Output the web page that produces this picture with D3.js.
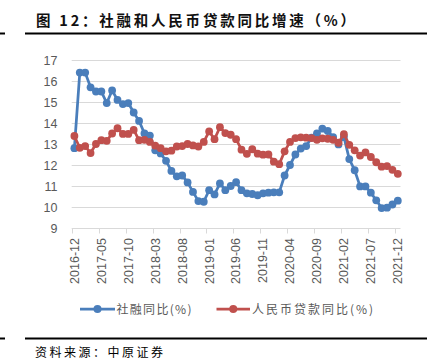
<!DOCTYPE html>
<html><head><meta charset="utf-8">
<script src="https://cdn.jsdelivr.net/npm/d3@7"></script>
<style>
html,body{margin:0;padding:0;background:#fff;}
svg{display:block;}
</style>
</head><body>
<svg id="chart" width="431" height="358"></svg>
<script>
const months = [
"2016-12","2017-01","2017-02","2017-03","2017-04","2017-05","2017-06","2017-07","2017-08","2017-09","2017-10","2017-11",
"2017-12","2018-01","2018-02","2018-03","2018-04","2018-05","2018-06","2018-07","2018-08","2018-09","2018-10","2018-11",
"2018-12","2019-01","2019-02","2019-03","2019-04","2019-05","2019-06","2019-07","2019-08","2019-09","2019-10","2019-11",
"2019-12","2020-01","2020-02","2020-03","2020-04","2020-05","2020-06","2020-07","2020-08","2020-09","2020-10","2020-11",
"2020-12","2021-01","2021-02","2021-03","2021-04","2021-05","2021-06","2021-07","2021-08","2021-09","2021-10","2021-11",
"2021-12"];
const tsfGrowth = [
12.8,16.4,16.4,15.7,15.5,15.5,14.95,15.55,15.1,14.9,14.95,14.5,
14.1,13.5,13.4,12.7,12.55,12.2,11.72,11.46,11.5,11.17,10.72,10.28,
10.25,10.8,10.6,11.12,10.8,11.0,11.18,10.8,10.65,10.62,10.56,10.65,
10.68,10.7,10.7,11.5,12.0,12.5,12.78,12.9,13.3,13.5,13.73,13.62,
13.33,12.98,13.34,12.28,11.75,10.98,10.98,10.68,10.32,9.95,9.97,10.12,
10.3];
const loanGrowth = [
13.38,12.82,12.9,12.57,13.0,13.18,13.15,13.5,13.75,13.48,13.48,13.67,
13.18,13.2,13.1,12.92,12.8,12.65,12.68,12.88,12.9,13.0,12.93,12.88,
13.1,13.6,13.23,13.8,13.52,13.44,13.23,12.73,12.53,12.75,12.54,12.49,
12.5,12.16,12.04,12.65,13.1,13.28,13.32,13.3,13.28,13.2,13.27,13.25,
13.2,13.06,13.47,12.96,12.7,12.45,12.6,12.38,12.13,11.92,11.95,11.77,
11.58];
const yTicks = [9,10,11,12,13,14,15,16,17];
const xTickLabels = ["2016-12","2017-05","2017-10","2018-03","2018-08","2019-01","2019-06","2019-11","2020-04","2020-09","2021-02","2021-07","2021-12"];
const seriesNames = ["社融同比(%)","人民币贷款同比(%)"];
const titleText = "图 12：社融和人民币贷款同比增速（%）";
const sourceText = "资料来源：中原证券";

const BLUE = "#4a7ebb", RED = "#c0504d", GRID = "#d9d9d9", LABEL = "#595959";
const svg = d3.select("#chart");

const x = d3.scaleBand().domain(months).range([71.7, 400.5]).padding(0);
const y = d3.scaleLinear().domain([9, 17]).range([228, 60]);
const cx = d => x(d) + x.bandwidth() / 2;

// title and rules
svg.append("text").attr("x", 36).attr("y", 25.5)
  .attr("font-family", "'Noto Sans CJK SC', sans-serif").attr("font-weight", "bold")
  .attr("font-size", 14.5).attr("fill", "#111")
  .attr("textLength", 319).attr("lengthAdjust", "spacing")
  .text(titleText);
[[0,5],[25,427]].forEach(([a,b]) => {
  svg.append("line").attr("x1", a).attr("x2", b).attr("y1", 33.5).attr("y2", 33.5)
    .attr("stroke", "#000").attr("stroke-width", 2);
  svg.append("line").attr("x1", a).attr("x2", b).attr("y1", 338.5).attr("y2", 338.5)
    .attr("stroke", "#000").attr("stroke-width", 2);
});
svg.append("text").attr("x", 35).attr("y", 356.5)
  .attr("font-family", "'Noto Sans CJK SC', sans-serif")
  .attr("font-size", 12).attr("fill", "#000")
  .attr("textLength", 128).attr("lengthAdjust", "spacing")
  .text(sourceText);

// gridlines
svg.append("g").selectAll("line").data(yTicks.filter(v => v > 9)).join("line")
  .attr("x1", 71.7).attr("x2", 400.5)
  .attr("y1", d => Math.round(y(d)) + 0.5).attr("y2", d => Math.round(y(d)) + 0.5)
  .attr("stroke", GRID).attr("stroke-width", 1);

// y axis labels
const yAxis = d3.axisLeft(y).tickValues(yTicks).tickSize(0).tickPadding(0);
const gy = svg.append("g").attr("transform", "translate(57.5,0)").call(yAxis);
gy.select(".domain").remove();
gy.selectAll("text").attr("font-family", "'Liberation Sans', Arial, sans-serif")
  .attr("font-size", 12.5).attr("fill", LABEL);

// x axis
svg.append("line").attr("x1", 71.7).attr("x2", 400.5).attr("y1", 228.5).attr("y2", 228.5)
  .attr("stroke", GRID).attr("stroke-width", 1);
svg.append("g").selectAll("line").data(xTickLabels).join("line")
  .attr("x1", d => Math.round(x(d)) + 0.5).attr("x2", d => Math.round(x(d)) + 0.5)
  .attr("y1", 228.5).attr("y2", 233.5).attr("stroke", GRID).attr("stroke-width", 1);
const xAxis = d3.axisBottom(x).tickValues(xTickLabels).tickSize(0).tickPadding(0);
const gx = svg.append("g").attr("transform", "translate(0,228)").call(xAxis);
gx.select(".domain").remove();
gx.selectAll("text")
  .attr("font-family", "'Liberation Sans', Arial, sans-serif")
  .attr("font-size", 12.5).attr("fill", LABEL)
  .attr("text-anchor", "end").attr("transform", "rotate(-90)")
  .attr("x", -10).attr("y", 0).attr("dy", "0.35em");

// series
const series = [
  {name: seriesNames[0], values: tsfGrowth, color: BLUE},
  {name: seriesNames[1], values: loanGrowth, color: RED}
];
const line = d3.line().x((d, i) => cx(months[i])).y(d => y(d));
series.forEach(s => {
  const g = svg.append("g");
  g.append("path").attr("d", line(s.values)).attr("fill", "none")
    .attr("stroke", s.color).attr("stroke-width", 2.75).attr("stroke-linejoin", "round");
  g.selectAll("circle").data(s.values).join("circle")
    .attr("cx", (d, i) => cx(months[i])).attr("cy", d => y(d))
    .attr("r", 3.9).attr("fill", s.color);
});

// legend
const legendItems = [
  {x1: 80, x2: 115, tx: 116.5, tl: 75},
  {x1: 216.5, x2: 250, tx: 252, tl: 121}
];
legendItems.forEach((L, k) => {
  const s = series[k];
  svg.append("line").attr("x1", L.x1).attr("x2", L.x2).attr("y1", 309).attr("y2", 309)
    .attr("stroke", s.color).attr("stroke-width", 2.75);
  svg.append("circle").attr("cx", (L.x1 + L.x2) / 2).attr("cy", 309).attr("r", 4).attr("fill", s.color);
  svg.append("text").attr("x", L.tx).attr("y", 313.5)
    .attr("font-family", "'Noto Sans CJK SC', sans-serif")
    .attr("font-size", 12).attr("fill", LABEL)
    .attr("textLength", L.tl).attr("lengthAdjust", "spacing")
    .text(s.name);
});
</script>
</body></html>
